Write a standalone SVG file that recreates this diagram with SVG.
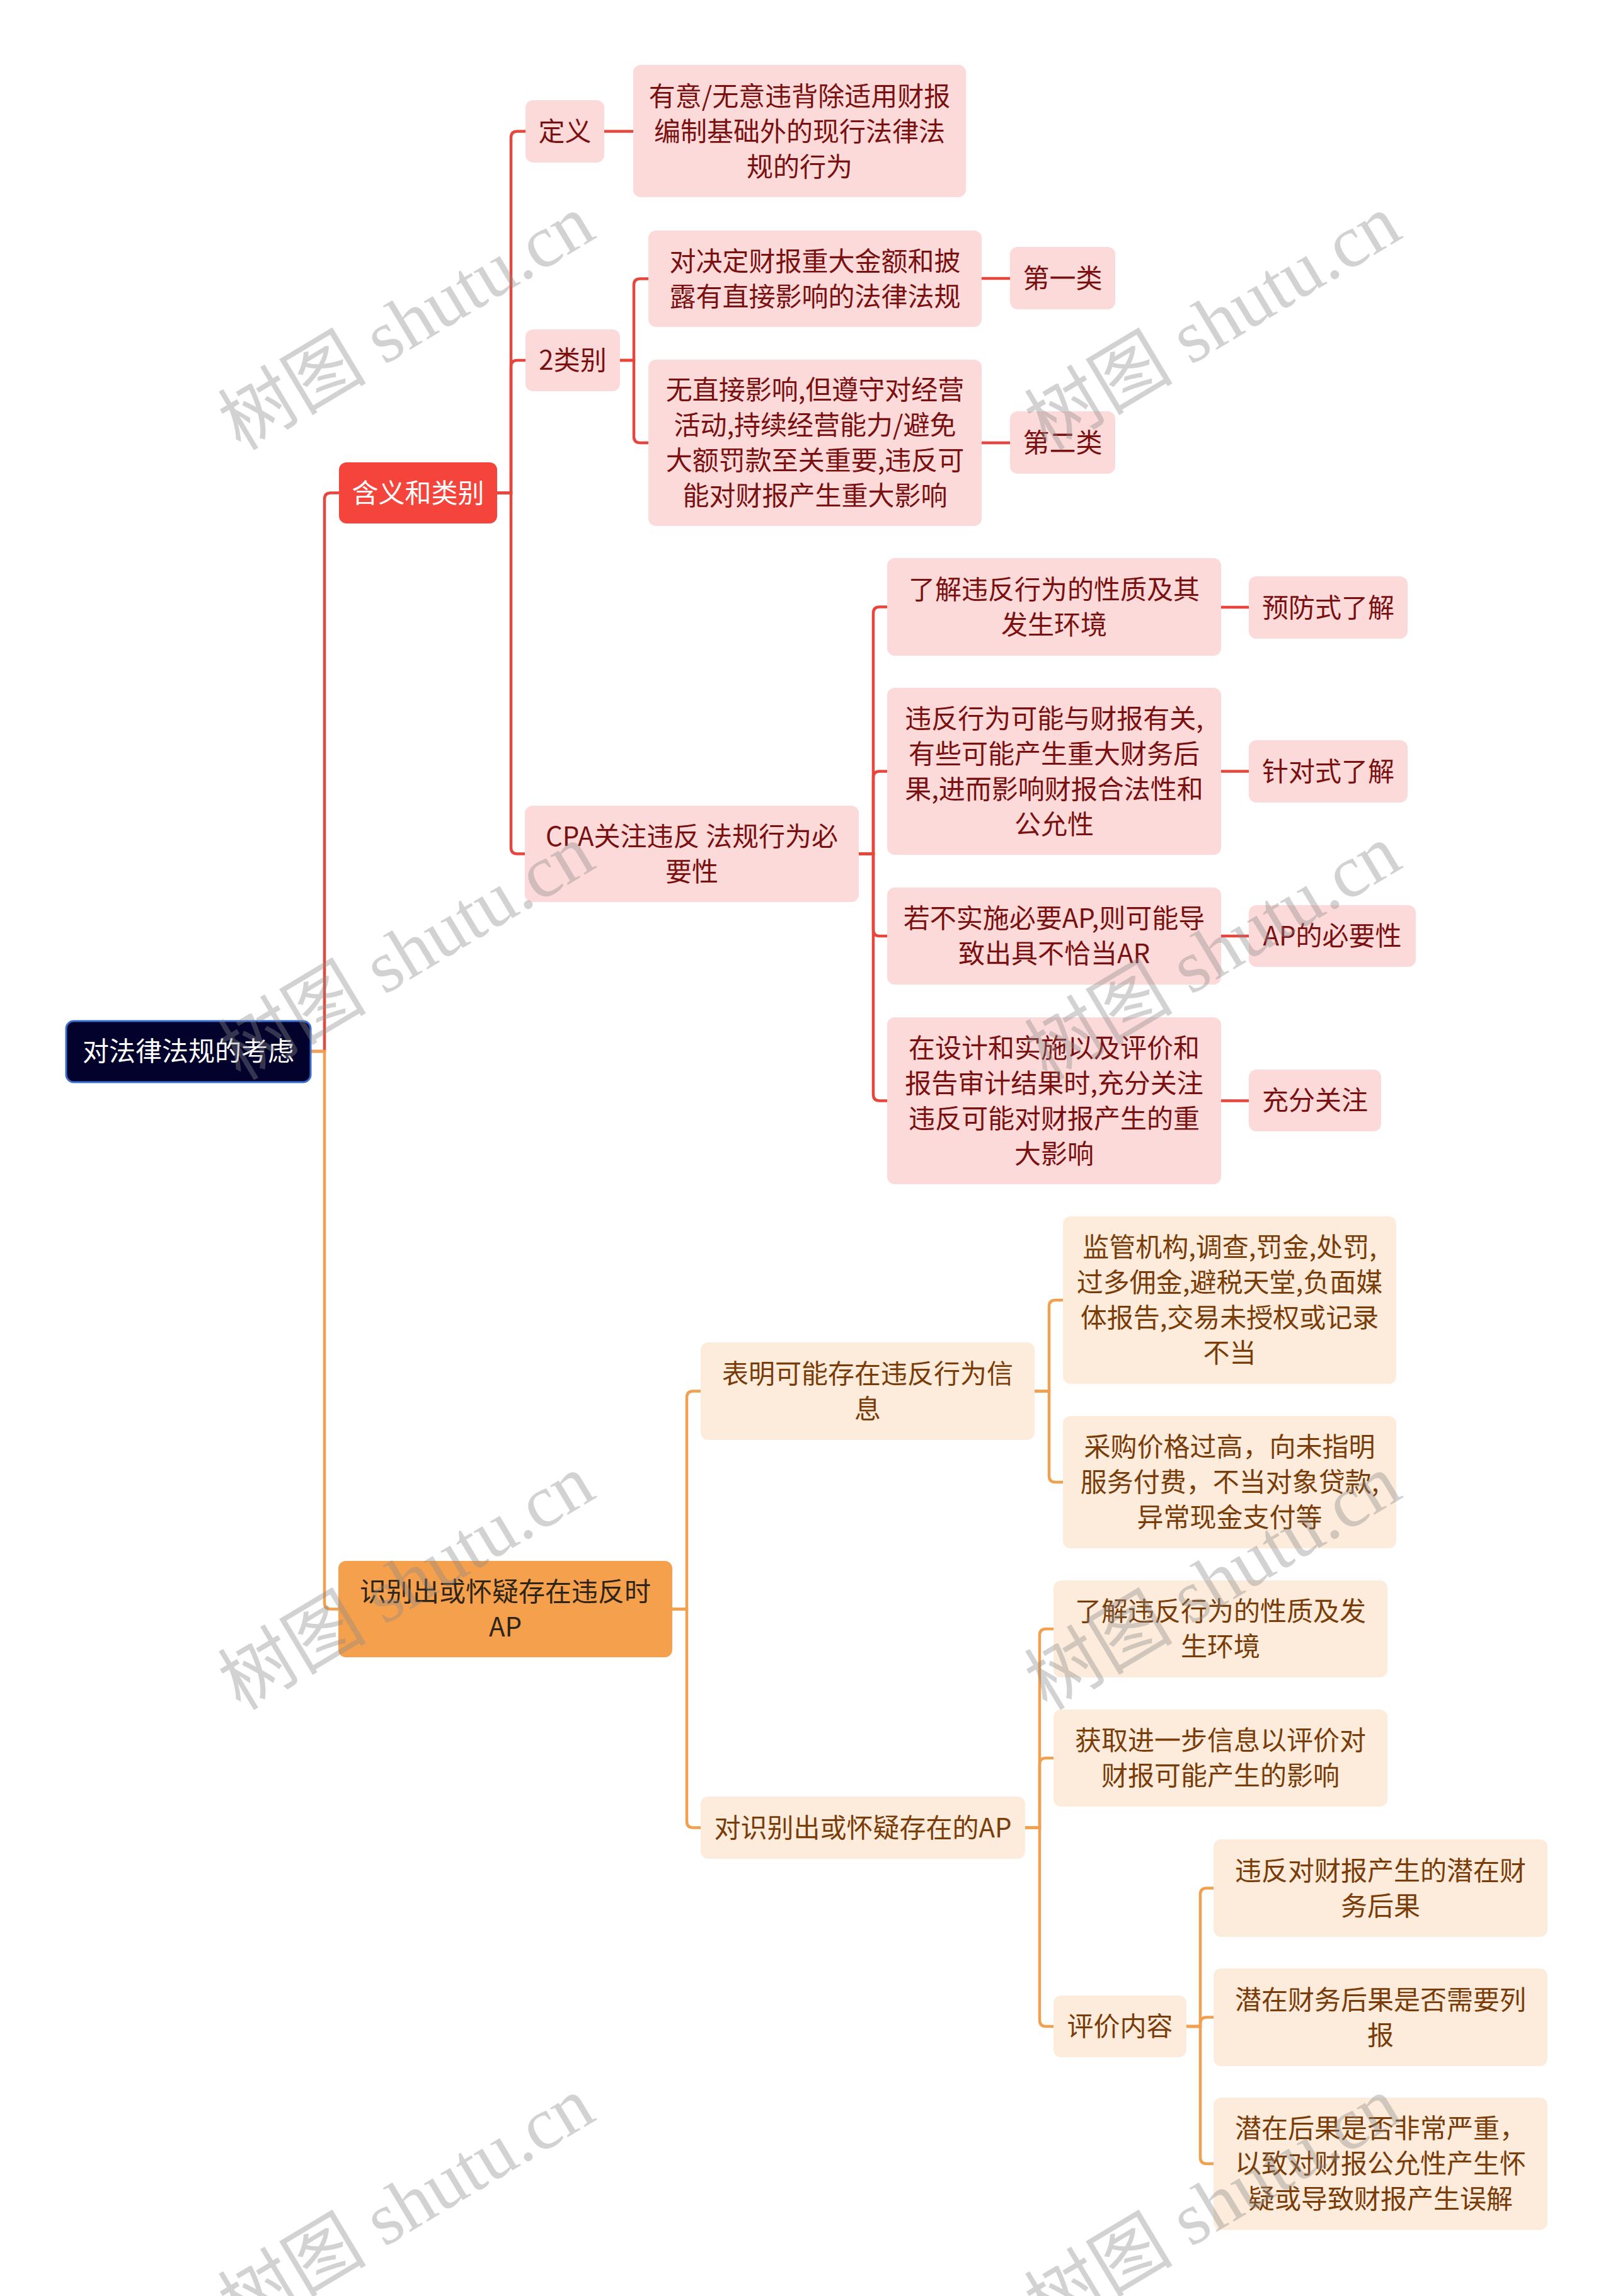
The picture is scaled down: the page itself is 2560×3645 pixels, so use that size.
<svg xmlns="http://www.w3.org/2000/svg" width="2560" height="3645" viewBox="0 0 2560 3645">
<style>
.t{font-family:"Noto Sans CJK SC","Noto Sans",sans-serif;font-size:42px;text-anchor:middle}
.tw{fill:#ffffff}.tr{fill:#7a1010}.to{fill:#7a3c08}.td{fill:#2e2418}
.root{fill:#03022c;stroke:#3a6fd0;stroke-width:3}
.r1{fill:#f5443b}.r2{fill:#fddada}.o1{fill:#f5a04c}.o2{fill:#fdecdc}
.cr{fill:none;stroke:#e8453c;stroke-width:4.5}
.co{fill:none;stroke:#f0a04f;stroke-width:4.5}
.wm{font-family:"Liberation Serif","Noto Sans CJK SC",serif;font-size:118px;fill:#8a8a8a;fill-opacity:0.38;text-anchor:middle}
</style>
<rect width="2560" height="3645" fill="#ffffff"/>
<g id="connectors">
<path class="cr" d="M493,1669 H515 V792.5 Q515,782.5 525,782.5 H538"/>
<path class="co" d="M493,1669 H515 V2544.5 Q515,2554.5 525,2554.5 H537"/>
<path class="cr" d="M789,782.5 H811 V218.5 Q811,208.5 821,208.5 H834"/>
<path class="cr" d="M789,782.5 H811 V582 Q811,572 821,572 H834"/>
<path class="cr" d="M789,782.5 H811 V1345.5 Q811,1355.5 821,1355.5 H833"/>
<path class="cr" d="M959,208.5 H1005"/>
<path class="cr" d="M983,572 H1006 V452.5 Q1006,442.5 1016,442.5 H1029"/>
<path class="cr" d="M983,572 H1006 V693 Q1006,703 1016,703 H1029"/>
<path class="cr" d="M1558,442 H1603"/>
<path class="cr" d="M1558,703 H1603"/>
<path class="cr" d="M1363,1355.5 H1386 V973.5 Q1386,963.5 1396,963.5 H1408"/>
<path class="cr" d="M1363,1355.5 H1386 V1234.5 Q1386,1224.5 1396,1224.5 H1408"/>
<path class="cr" d="M1363,1355.5 H1386 V1476 Q1386,1486 1396,1486 H1408"/>
<path class="cr" d="M1363,1355.5 H1386 V1737.5 Q1386,1747.5 1396,1747.5 H1408"/>
<path class="cr" d="M1938,964 H1982"/>
<path class="cr" d="M1938,1224.5 H1982"/>
<path class="cr" d="M1938,1486 H1982"/>
<path class="cr" d="M1938,1747.5 H1982"/>
<path class="co" d="M1067,2554.5 H1090 V2218.5 Q1090,2208.5 1100,2208.5 H1112"/>
<path class="co" d="M1067,2554.5 H1090 V2891.5 Q1090,2901.5 1100,2901.5 H1112"/>
<path class="co" d="M1642,2208.5 H1665 V2074 Q1665,2064 1675,2064 H1687"/>
<path class="co" d="M1642,2208.5 H1665 V2343 Q1665,2353 1675,2353 H1687"/>
<path class="co" d="M1627,2901.5 H1650 V2596 Q1650,2586 1660,2586 H1672"/>
<path class="co" d="M1627,2901.5 H1650 V2801 Q1650,2791 1660,2791 H1672"/>
<path class="co" d="M1627,2901.5 H1650 V3207 Q1650,3217 1660,3217 H1672"/>
<path class="co" d="M1883,3217 H1905 V3007.5 Q1905,2997.5 1915,2997.5 H1926"/>
<path class="co" d="M1883,3217 H1905 V3212.5 Q1905,3202.5 1915,3202.5 H1926"/>
<path class="co" d="M1883,3217 H1905 V3425 Q1905,3435 1915,3435 H1926"/>
</g>
<g id="root"><rect class="root" x="105" y="1621" width="388" height="97" rx="12"/><text class="t tw" x="299" y="1684">对法律法规的考虑</text></g>
<g id="n-hanyi"><rect class="r1" x="538" y="734" width="251" height="97" rx="12"/><text class="t tw" x="663.5" y="797.5">含义和类别</text></g>
<g id="n-dingyi"><rect class="r2" x="834" y="159" width="125" height="99" rx="12"/><text class="t tr" x="896.5" y="223.5">定义</text></g>
<g id="n-youyi"><rect class="r2" x="1005" y="103" width="528" height="210" rx="12"/><text class="t tr" x="1269" y="168"><tspan x="1269">有意/无意违背除适用财报</tspan><tspan x="1269" dy="56">编制基础外的现行法律法</tspan><tspan x="1269" dy="56">规的行为</tspan></text></g>
<g id="n-2leibie"><rect class="r2" x="834" y="523" width="150" height="98" rx="12"/><text class="t tr" x="909" y="587">2类别</text></g>
<g id="n-duijueding"><rect class="r2" x="1029" y="366" width="529" height="153" rx="12"/><text class="t tr" x="1293.5" y="429.5"><tspan x="1293.5">对决定财报重大金额和披</tspan><tspan x="1293.5" dy="56">露有直接影响的法律法规</tspan></text></g>
<g id="n-wuzhijie"><rect class="r2" x="1029" y="571" width="529" height="264" rx="12"/><text class="t tr" x="1293.5" y="634"><tspan x="1293.5">无直接影响,但遵守对经营</tspan><tspan x="1293.5" dy="56">活动,持续经营能力/避免</tspan><tspan x="1293.5" dy="56">大额罚款至关重要,违反可</tspan><tspan x="1293.5" dy="56">能对财报产生重大影响</tspan></text></g>
<g id="n-diyilei"><rect class="r2" x="1603" y="392" width="167" height="99" rx="12"/><text class="t tr" x="1686.5" y="456.5">第一类</text></g>
<g id="n-dierlei"><rect class="r2" x="1603" y="653" width="167" height="99" rx="12"/><text class="t tr" x="1686.5" y="717.5">第二类</text></g>
<g id="n-cpa"><rect class="r2" x="833" y="1279" width="530" height="153" rx="12"/><text class="t tr" x="1098" y="1342.5"><tspan x="1098">CPA关注违反 法规行为必</tspan><tspan x="1098" dy="56">要性</tspan></text></g>
<g id="n-liaojie1"><rect class="r2" x="1408" y="886" width="530" height="155" rx="12"/><text class="t tr" x="1673" y="950.5"><tspan x="1673">了解违反行为的性质及其</tspan><tspan x="1673" dy="56">发生环境</tspan></text></g>
<g id="n-weifan1"><rect class="r2" x="1408" y="1092" width="530" height="265" rx="12"/><text class="t tr" x="1673" y="1155.5"><tspan x="1673">违反行为可能与财报有关,</tspan><tspan x="1673" dy="56">有些可能产生重大财务后</tspan><tspan x="1673" dy="56">果,进而影响财报合法性和</tspan><tspan x="1673" dy="56">公允性</tspan></text></g>
<g id="n-ruobu"><rect class="r2" x="1408" y="1409" width="530" height="154" rx="12"/><text class="t tr" x="1673" y="1473"><tspan x="1673">若不实施必要AP,则可能导</tspan><tspan x="1673" dy="56">致出具不恰当AR</tspan></text></g>
<g id="n-zaisheji"><rect class="r2" x="1408" y="1615" width="530" height="265" rx="12"/><text class="t tr" x="1673" y="1678.5"><tspan x="1673">在设计和实施以及评价和</tspan><tspan x="1673" dy="56">报告审计结果时,充分关注</tspan><tspan x="1673" dy="56">违反可能对财报产生的重</tspan><tspan x="1673" dy="56">大影响</tspan></text></g>
<g id="n-yufang"><rect class="r2" x="1982" y="915" width="252" height="99" rx="12"/><text class="t tr" x="2108" y="979.5">预防式了解</text></g>
<g id="n-zhendui"><rect class="r2" x="1982" y="1175" width="252" height="99" rx="12"/><text class="t tr" x="2108" y="1239.5">针对式了解</text></g>
<g id="n-apbiyao"><rect class="r2" x="1982" y="1437" width="265" height="98" rx="12"/><text class="t tr" x="2114.5" y="1501">AP的必要性</text></g>
<g id="n-chongfen"><rect class="r2" x="1982" y="1698" width="210" height="98" rx="12"/><text class="t tr" x="2087" y="1762">充分关注</text></g>
<g id="n-shibie"><rect class="o1" x="537" y="2478" width="530" height="153" rx="12"/><text class="t td" x="802" y="2541.5"><tspan x="802">识别出或怀疑存在违反时</tspan><tspan x="802" dy="56">AP</tspan></text></g>
<g id="n-biaoming"><rect class="o2" x="1112" y="2131" width="530" height="155" rx="12"/><text class="t to" x="1377" y="2195.5"><tspan x="1377">表明可能存在违反行为信</tspan><tspan x="1377" dy="56">息</tspan></text></g>
<g id="n-jianguan"><rect class="o2" x="1687" y="1931" width="529" height="266" rx="12"/><text class="t to" x="1951.5" y="1995"><tspan x="1951.5">监管机构,调查,罚金,处罚,</tspan><tspan x="1951.5" dy="56">过多佣金,避税天堂,负面媒</tspan><tspan x="1951.5" dy="56">体报告,交易未授权或记录</tspan><tspan x="1951.5" dy="56">不当</tspan></text></g>
<g id="n-caigou"><rect class="o2" x="1687" y="2248" width="529" height="210" rx="12"/><text class="t to" x="1951.5" y="2312"><tspan x="1951.5">采购价格过高，向未指明</tspan><tspan x="1951.5" dy="56">服务付费，不当对象贷款,</tspan><tspan x="1951.5" dy="56">异常现金支付等</tspan></text></g>
<g id="n-duishibie"><rect class="o2" x="1112" y="2852" width="515" height="99" rx="12"/><text class="t to" x="1369.5" y="2916.5">对识别出或怀疑存在的AP</text></g>
<g id="n-liaojie2"><rect class="o2" x="1672" y="2509" width="530" height="154" rx="12"/><text class="t to" x="1937" y="2573"><tspan x="1937">了解违反行为的性质及发</tspan><tspan x="1937" dy="56">生环境</tspan></text></g>
<g id="n-huoqu"><rect class="o2" x="1672" y="2714" width="530" height="154" rx="12"/><text class="t to" x="1937" y="2778"><tspan x="1937">获取进一步信息以评价对</tspan><tspan x="1937" dy="56">财报可能产生的影响</tspan></text></g>
<g id="n-pingjia"><rect class="o2" x="1672" y="3168" width="211" height="98" rx="12"/><text class="t to" x="1777.5" y="3232">评价内容</text></g>
<g id="n-weifandui"><rect class="o2" x="1926" y="2920" width="530" height="155" rx="12"/><text class="t to" x="2191" y="2984.5"><tspan x="2191">违反对财报产生的潜在财</tspan><tspan x="2191" dy="56">务后果</tspan></text></g>
<g id="n-qianzai1"><rect class="o2" x="1926" y="3125" width="530" height="155" rx="12"/><text class="t to" x="2191" y="3189.5"><tspan x="2191">潜在财务后果是否需要列</tspan><tspan x="2191" dy="56">报</tspan></text></g>
<g id="n-qianzai2"><rect class="o2" x="1926" y="3330" width="530" height="210" rx="12"/><text class="t to" x="2191" y="3394"><tspan x="2191">潜在后果是否非常严重，</tspan><tspan x="2191" dy="56">以致对财报公允性产生怀</tspan><tspan x="2191" dy="56">疑或导致财报产生误解</tspan></text></g>
<g id="watermarks">
<text class="wm" transform="translate(645,512) rotate(-31)" y="40">树图 shutu.cn</text>
<text class="wm" transform="translate(1925,512) rotate(-31)" y="40">树图 shutu.cn</text>
<text class="wm" transform="translate(645,1512) rotate(-31)" y="40">树图 shutu.cn</text>
<text class="wm" transform="translate(1925,1512) rotate(-31)" y="40">树图 shutu.cn</text>
<text class="wm" transform="translate(645,2512) rotate(-31)" y="40">树图 shutu.cn</text>
<text class="wm" transform="translate(1925,2512) rotate(-31)" y="40">树图 shutu.cn</text>
<text class="wm" transform="translate(645,3500) rotate(-31)" y="40">树图 shutu.cn</text>
<text class="wm" transform="translate(1925,3500) rotate(-31)" y="40">树图 shutu.cn</text>
</g>
</svg>
